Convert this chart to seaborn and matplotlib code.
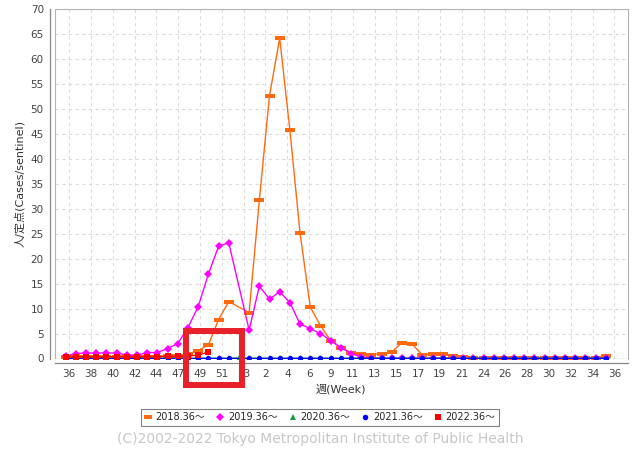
import numpy as np
import pandas as pd
import seaborn as sns
import matplotlib.pyplot as plt
from matplotlib.lines import Line2D
from matplotlib.patches import Rectangle
from matplotlib.path import Path

# week slots on the x axis: 36..52, 53, 1..35, 36  (54 slots)
week_slots = list(range(36, 54)) + list(range(1, 37))
tick_labels = ["36", "38", "40", "42", "44", "47", "49", "51", "53", "2", "4", "6", "9",
               "11", "13", "15", "17", "19", "21", "24", "26", "28", "30", "32", "34", "36"]

seasons = ["2018.36〜", "2019.36〜", "2020.36〜", "2021.36〜", "2022.36〜"]

N = None
s2018 = [0.3, 0.3, 0.3, 0.3, 0.3, 0.3, 0.3, 0.3, 0.35, 0.4, 0.45, 0.6, 0.9, 1.6, 2.7, 7.8, 11.4, N,
         9.2, 31.7, 52.7, 64.2, 45.8, 25.1, 10.3, 6.6, 3.6, 2.2, 1.2, 0.9, 0.8, 1.0, 1.3, 3.2, 2.9,
         0.7, 0.9, 0.9, 0.45, 0.3, 0.2, 0.15, 0.15, 0.15, 0.15, 0.15, 0.15, 0.15, 0.15, 0.15, 0.15,
         0.15, 0.15, 0.5]
s2019 = [0.5, 1.0, 1.1, 1.1, 1.1, 1.1, 0.7, 0.7, 1.2, 1.2, 2.0, 3.0, 6.2, 10.4, 16.9, 22.5, 23.2, N,
         5.7, 14.5, 11.9, 13.4, 11.2, 6.9, 6.0, 5.0, 3.6, 2.2, 1.0, 0.3, 0.1, 0.05, 0.05, 0.05, 0.05,
         0.05, 0.05, 0.05, 0.05, 0.05, 0.05, 0.05, 0.05, 0.05, 0.05, 0.05, 0.05, 0.05, 0.05, 0.05,
         0.05, 0.05, 0.05, 0.05]
s2020 = [0.05] * 17 + [0.1] + [0.05] * 36
s2021 = [0.05] * 17 + [N] + [0.05] * 36
s2022 = [0.35, 0.35, 0.35, 0.35, 0.35, 0.35, 0.35, 0.35, 0.4, 0.4, 0.45, 0.45, 0.5, 0.7, 1.25]

colors = ["#ff6a10", "#ff00ff", "#10a040", "#0000ff", "#ff0000"]
flat = Path([(-1, -0.5), (1, -0.5), (1, 0.5), (-1, 0.5), (-1, -0.5)],
            [Path.MOVETO, Path.LINETO, Path.LINETO, Path.LINETO, Path.CLOSEPOLY])
markers = [flat, "D", "^", "o", "s"]
msizes = [6.5, 4, 4, 3.8, 4.3]

rows = []
for name, vals in zip(seasons, [s2018, s2019, s2020, s2021, s2022]):
    for i, v in enumerate(vals):
        if v is not None:
            rows.append({"pos": i, "week": week_slots[i], "season": name, "value": v})
df = pd.DataFrame(rows)

sns.set_style("white")
plt.rcParams["font.family"] = ["DejaVu Sans", "Noto Sans CJK JP"]

fig = plt.figure(figsize=(6.4, 4.5), dpi=100)
ax = fig.add_axes([55 / 640, 1 - 358.5 / 450, (627.7 - 55) / 640, (358.5 - 9.3) / 450])

for name, c, m, ms in zip(seasons, colors, markers, msizes):
    d = df[df["season"] == name]
    sns.lineplot(data=d, x="pos", y="value", color=c, marker=m, markersize=ms,
                 markeredgewidth=0, linewidth=1.0, sort=False, ax=ax, legend=False)

ax.axhline(0, color="#4a4a9a", lw=0.8, zorder=1)
ax.set_xlim(-1.05, 55.15)
ax.set_ylim(0, 70)
ax.set_yticks(np.arange(0, 71, 5))
ax.set_xticks(np.linspace(0.35, 53.84, 26))
ax.set_xticklabels(tick_labels)
ax.grid(True, ls=(0, (3, 3)), color="#dcdcdc", lw=0.8)
ax.set_axisbelow(True)

for side in ["top", "right"]:
    ax.spines[side].set_color("#b4b4b4")
    ax.spines[side].set_linewidth(0.8)
ax.spines["left"].set_position(("outward", 3.6))
ax.spines["bottom"].set_position(("outward", 3.3))
for side in ["left", "bottom"]:
    ax.spines[side].set_color("#888888")
    ax.spines[side].set_linewidth(0.9)
ax.axvline(-1.05, color="#b4b4b4", lw=0.8)
ax.tick_params(length=3, width=0.8, color="#888888", labelsize=7.5, labelcolor="#444444", pad=1.5)

ax.set_xlabel("週(Week)", fontsize=8, color="#333333", labelpad=3)
ax.set_ylabel("人/定点(Cases/sentinel)", fontsize=8, color="#333333", labelpad=4)

handles = [Line2D([], [], ls="None", marker=m, color=c, markersize=ms, markeredgewidth=0)
           for c, m, ms in zip(colors, markers, [5.5, 4, 4.5, 4, 4])]
leg = fig.legend(handles, seasons, loc="center", bbox_to_anchor=(320 / 640, 1 - 417.5 / 450), ncol=5,
                 fontsize=7, frameon=True, fancybox=False, edgecolor="#808080", framealpha=1,
                 handlelength=0.6, handletextpad=0.5, columnspacing=1.25, borderpad=0.35)
leg.get_frame().set_linewidth(0.8)

fig.text(320 / 640, 1 - 438.5 / 450, "(C)2002-2022 Tokyo Metropolitan Institute of Public Health",
         ha="center", va="center", fontsize=10, color="#c8c8c8")

# red highlight box
fig.patches.append(Rectangle((186 / 640, 1 - 385 / 450), 56 / 640, 54 / 450, fill=False,
                             edgecolor="#e8202a", lw=4.3, transform=fig.transFigure, figure=fig))

fig.savefig("out.png", dpi=100)
